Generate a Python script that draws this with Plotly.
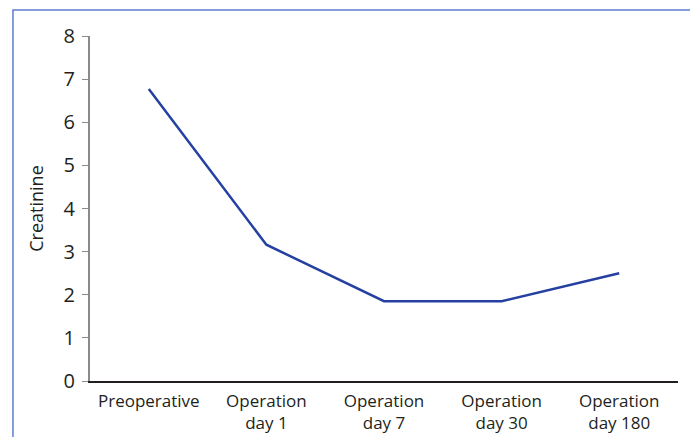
import plotly.graph_objects as go

categories = ["Preoperative", "Operation<br>day 1", "Operation<br>day 7", "Operation<br>day 30", "Operation<br>day 180"]
creatinine = [6.77, 3.16, 1.85, 1.85, 2.5]
y_ticks = [0, 1, 2, 3, 4, 5, 6, 7, 8]

fig = go.Figure()
fig.add_trace(go.Scatter(
    x=list(range(len(categories))), y=creatinine, mode="lines",
    line=dict(color="#2540a0", width=2.5), hoverinfo="skip", showlegend=False,
))

fig.update_layout(
    width=690, height=429,
    margin=dict(l=82, r=20, t=28, b=56, autoexpand=False),
    paper_bgcolor="white", plot_bgcolor="white",
    font=dict(family="Open Sans, Noto Sans, sans-serif", size=16, color="#231f20"),
    xaxis=dict(
        range=[-0.5, 4.5], tickmode="array", tickvals=list(range(len(categories))),
        ticktext=categories, showgrid=False, zeroline=False,
        showline=True, linecolor="#231f20", linewidth=1.5, ticks="",
        tickfont=dict(size=17, color="#231f20"), ticklabelstandoff=4,
        fixedrange=True, automargin=False,
    ),
    yaxis=dict(
        range=[0, 8], tickvals=y_ticks, showgrid=False, zeroline=False,
        showline=True, linecolor="#8a8a8a", linewidth=2,
        ticks="outside", ticklen=6, tickcolor="#8a8a8a", tickwidth=1,
        title=dict(text="Creatinine", font=dict(size=18, color="#231f20"), standoff=15),
        tickfont=dict(size=20, color="#231f20"), ticklabelstandoff=3,
        fixedrange=True, automargin=False,
    ),
    shapes=[dict(
        type="rect", xref="paper", yref="paper",
        x0=-0.131, x1=1.0255, y0=-0.3, y1=1.0754,
        line=dict(color="#5b7fd0", width=1.5), fillcolor="rgba(0,0,0,0)", layer="below",
    )],
)

fig.write_html("out.html")
